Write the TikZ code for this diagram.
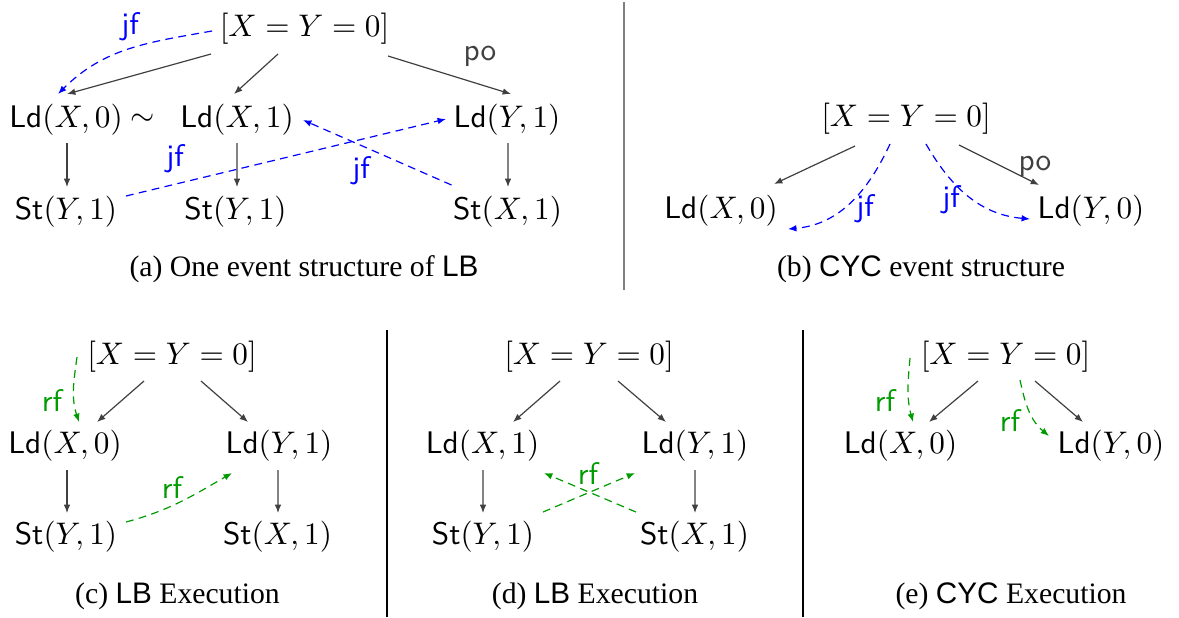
\RequirePackage{fix-cm}
\documentclass[tikz,border=0pt]{standalone}
\usepackage{fontspec}
\newfontfamily\capserif{Liberation Serif}
\newfontfamily\capsans{Liberation Sans}
\usetikzlibrary{arrows.meta,calc}
\definecolor{edgegray}{HTML}{404040}
\definecolor{jfblue}{RGB}{0,0,255}
\definecolor{rfgreen}{RGB}{0,155,0}
\definecolor{sepgray}{HTML}{7F7F7F}
\newcommand{\evLd}{\textsf{Ld}}
\newcommand{\evSt}{\textsf{St}}
\begin{document}
\begin{tikzpicture}[x=0.3333pt,y=0.3333pt,
  ev/.style={inner sep=0pt, font=\fontsize{10.4}{12.5}\selectfont},
  lbl/.style={inner sep=0pt, font=\fontsize{10.4}{12.5}\selectfont\sffamily},
  capt/.style={inner sep=0pt, anchor=base, font=\fontsize{9.9}{12}\selectfont\capserif},
  tip/.style={-{Latex[length=2.8pt,width=2.2pt]}},
  po/.style={draw=edgegray, line width=0.4pt, tip},
  jf/.style={draw=jfblue, line width=0.4pt, dash pattern=on 2.6pt off 1.8pt, tip},
  rf/.style={draw=rfgreen, line width=0.4pt, dash pattern=on 2.6pt off 1.8pt, tip},
  sep/.style={line width=0.5pt}
]
\useasboundingbox (0,0) rectangle (1179,-617);

% ---------- (a)
\node[ev] (aI) at (304.5,-29) {$[X=Y=0]$};
\node[ev] (aL1) at (66,-120) {\evLd$(X,0)$};
\node[ev] (aT) at (142.5,-120) {$\sim$};
\node[ev] (aL2) at (237,-120) {\evLd$(X,1)$};
\node[ev] (aL3) at (507,-120) {\evLd$(Y,1)$};
\node[ev] (aS1) at (66,-211.5) {\evSt$(Y,1)$};
\node[ev] (aS2) at (235.5,-211.5) {\evSt$(Y,1)$};
\node[ev] (aS3) at (507.5,-211.5) {\evSt$(X,1)$};
\node[capt] (aC) at (304,-276) {(a) One event structure of {\capsans LB}};

\draw[po] ($(aI)+(-93.5,-25)$) -- ($(aL1)+(1,26)$);
\draw[po] ($(aI)+(-26.5,-25)$) -- ($(aL2)+(-3,26)$);
\draw[po] ($(aI)+(83.5,-27)$) -- ($(aL3)+(4,26)$);
\draw[po] ($(aL1)+(1,-23)$) -- ($(aS1)+(1,24.5)$);
\draw[po] ($(aL2)+(0,-23)$) -- ($(aS2)+(1.5,24.5)$);
\draw[po] ($(aL3)+(1,-23)$) -- ($(aS3)+(0.5,24.5)$);
\draw[jf] ($(aI)+(-92.5,-2)$) to[out=190,in=45] ($(aL1)+(-8,26)$);
\draw[jf] ($(aS1)+(60,15.5)$) -- ($(aL3)+(-61,1)$);
\draw[jf] ($(aS3)+(-56,26.5)$) -- ($(aL2)+(66,0)$);
\node[lbl, text=jfblue] (aJ1) at (130,-27) {jf};
\node[lbl, text=edgegray] (aP) at (480,-56) {po};
\node[lbl, text=jfblue] (aJ2) at (175,-159) {jf};
\node[lbl, text=jfblue] (aJ3) at (361,-171) {jf};

\draw[sep, draw=sepgray, line width=0.7pt] (624,-2) -- (624,-290);

% ---------- (b)
\node[ev] (bI) at (906,-119) {$[X=Y=0]$};
\node[ev] (bL1) at (721,-211) {\evLd$(X,0)$};
\node[ev] (bL2) at (1091,-211) {\evLd$(Y,0)$};
\node[capt] (bC) at (921,-276) {(b) {\capsans CYC} event structure};
\draw[po] ($(bI)+(-51,-27)$) -- ($(bL1)+(53,27)$);
\draw[po] ($(bI)+(53,-26)$) -- ($(bL2)+(-52,26)$);
\draw[jf] ($(bI)+(-16,-25)$) to[out=245,in=5] ($(bL1)+(67,-18)$);
\draw[jf] ($(bI)+(20,-25)$) to[out=-60,in=175] ($(bL2)+(-61,-8)$);
\node[lbl, text=edgegray] (bP) at (1035,-166) {po};
\node[lbl, text=jfblue] (bJ1) at (865,-209) {jf};
\node[lbl, text=jfblue] (bJ2) at (951,-200) {jf};

% ---------- (c)
\node[ev] (cI) at (172,-357) {$[X=Y=0]$};
\node[ev] (cL1) at (65,-446) {\evLd$(X,0)$};
\node[ev] (cL2) at (279,-446) {\evLd$(Y,1)$};
\node[ev] (cS1) at (66,-537) {\evSt$(Y,1)$};
\node[ev] (cS2) at (277.5,-537) {\evSt$(X,1)$};
\node[capt] (cC) at (177.5,-603) {(c) {\capsans LB} Execution};
\draw[po] ($(cI)+(-28,-24)$) -- ($(cL1)+(32,24)$);
\draw[po] ($(cI)+(29,-24)$) -- ($(cL2)+(-31,24)$);
\draw[po] ($(cL1)+(2,-24)$) -- ($(cS1)+(1,24)$);
\draw[po] ($(cL2)+(-1,-24)$) -- ($(cS2)+(0.5,24)$);
\draw[rf] ($(cI)+(-95,0)$) to[out=262,in=108] ($(cL1)+(14,24)$);
\draw[rf] ($(cS1)+(60,15)$) to[out=15,in=210] ($(cL2)+(-47,-27)$);
\node[lbl, text=rfgreen] (cR1) at (52,-400) {rf};
\node[lbl, text=rfgreen] (cR2) at (172,-487) {rf};

\draw[sep, draw=black] (387,-330) -- (387,-617);

% ---------- (d)
\node[ev] (dI) at (589,-357) {$[X=Y=0]$};
\node[ev] (dL1) at (482.5,-446) {\evLd$(X,1)$};
\node[ev] (dL2) at (695,-446) {\evLd$(Y,1)$};
\node[ev] (dS1) at (483,-537) {\evSt$(Y,1)$};
\node[ev] (dS2) at (694.5,-537) {\evSt$(X,1)$};
\node[capt] (dC) at (595,-603) {(d) {\capsans LB} Execution};
\draw[po] ($(dI)+(-29,-24)$) -- ($(dL1)+(30.5,24)$);
\draw[po] ($(dI)+(29,-24)$) -- ($(dL2)+(-29,24)$);
\draw[po] ($(dL1)+(0.5,-24)$) -- ($(dS1)+(0,24)$);
\draw[po] ($(dL2)+(0,-24)$) -- ($(dS2)+(0.5,24)$);
\draw[rf] ($(dS1)+(60,25)$) -- ($(dL2)+(-60,-27)$);
\draw[rf] ($(dS2)+(-58.5,25)$) -- ($(dL1)+(61.5,-27)$);
\node[lbl, text=rfgreen] (dR) at (588,-473) {rf};

\draw[sep, draw=black] (803,-330) -- (803,-617);

% ---------- (e)
\node[ev] (eI) at (1005.5,-357) {$[X=Y=0]$};
\node[ev] (eL1) at (900.5,-446) {\evLd$(X,0)$};
\node[ev] (eL2) at (1111,-446) {\evLd$(Y,0)$};
\node[capt] (eC) at (1011,-603) {(e) {\capsans CYC} Execution};
\draw[po] ($(eI)+(-27.5,-24)$) -- ($(eL1)+(28.5,24)$);
\draw[po] ($(eI)+(29.5,-24)$) -- ($(eL2)+(-28,24)$);
\draw[rf] ($(eI)+(-95.5,-1)$) to[out=265,in=105] ($(eL1)+(12.5,24)$);
\draw[rf] ($(eI)+(14.5,-23)$) to[out=-78,in=140] ($(eL2)+(-62,10)$);
\node[lbl, text=rfgreen] (eR1) at (885,-400) {rf};
\node[lbl, text=rfgreen] (eR2) at (1010,-420) {rf};
\end{tikzpicture}
\end{document}
